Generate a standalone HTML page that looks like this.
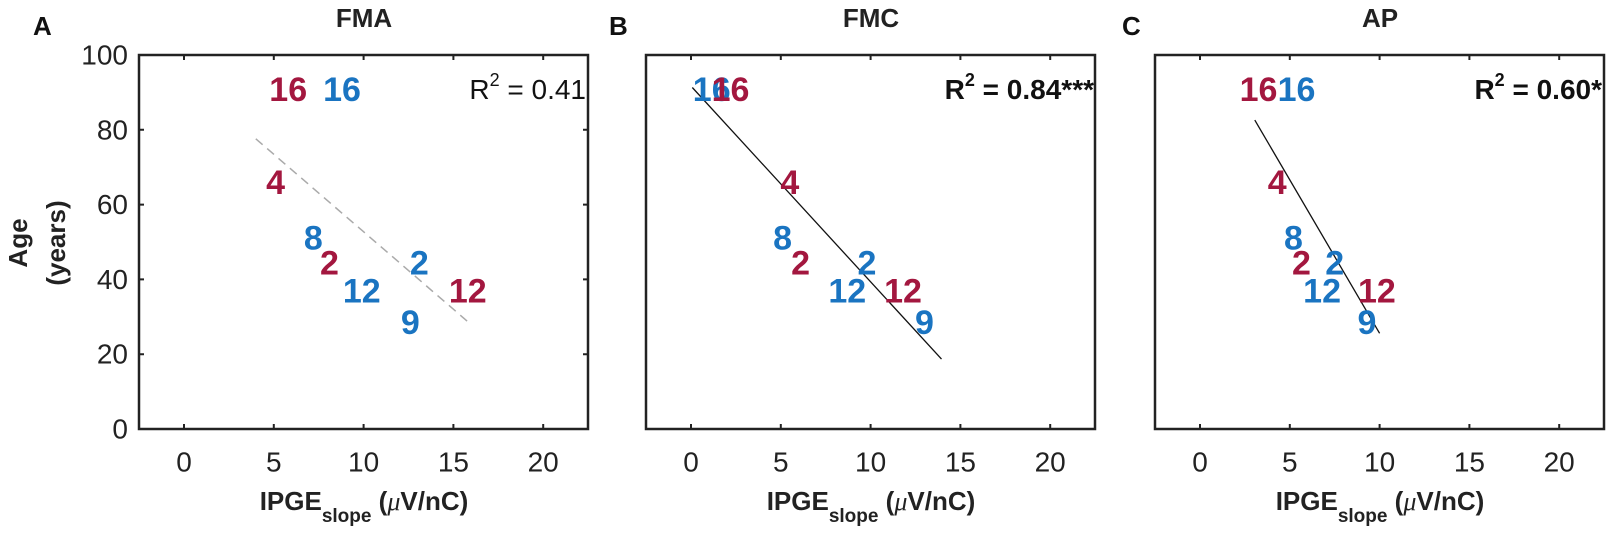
<!DOCTYPE html>
<html><head><meta charset="utf-8"><style>
html,body{margin:0;padding:0;background:#fff}
svg{display:block}
text{font-family:"Liberation Sans",Arial,sans-serif}
.t{font-size:28px;fill:#222}
.b{font-weight:bold}
.r{fill:#a3173f;font-weight:bold;font-size:34px}
.u{fill:#1a74c1;font-weight:bold;font-size:34px}
</style></head><body>
<svg width="1610" height="536" viewBox="0 0 1610 536">
<g stroke="#222" stroke-width="2.5" fill="none">
<rect x="139" y="55" width="449" height="374"/>
<rect x="646" y="55" width="449" height="374"/>
<rect x="1155" y="55" width="449" height="374"/>
</g>
<g stroke="#222" stroke-width="2">
<path d="M184 429v-5M273.8 429v-5M363.6 429v-5M453.4 429v-5M543.2 429v-5M184 55v5M273.8 55v5M363.6 55v5M453.4 55v5M543.2 55v5"/>
<path d="M691 429v-5M780.8 429v-5M870.6 429v-5M960.4 429v-5M1050.2 429v-5M691 55v5M780.8 55v5M870.6 55v5M960.4 55v5M1050.2 55v5"/>
<path d="M1200 429v-5M1289.8 429v-5M1379.6 429v-5M1469.4 429v-5M1559.2 429v-5M1200 55v5M1289.8 55v5M1379.6 55v5M1469.4 55v5M1559.2 55v5"/>
<path d="M139 129.8h5M139 204.6h5M139 279.4h5M139 354.2h5M588 129.8h-5M588 204.6h-5M588 279.4h-5M588 354.2h-5"/>
</g>
<g class="t" text-anchor="end" dominant-baseline="central">
<text x="128" y="55">100</text><text x="128" y="129.8">80</text><text x="128" y="204.6">60</text><text x="128" y="279.4">40</text><text x="128" y="354.2">20</text><text x="128" y="429">0</text>
</g>
<g class="t" text-anchor="middle" dominant-baseline="central">
<text x="184" y="462">0</text><text x="273.8" y="462">5</text><text x="363.6" y="462">10</text><text x="453.4" y="462">15</text><text x="543.2" y="462">20</text>
<text x="691" y="462">0</text><text x="780.8" y="462">5</text><text x="870.6" y="462">10</text><text x="960.4" y="462">15</text><text x="1050.2" y="462">20</text>
<text x="1200" y="462">0</text><text x="1289.8" y="462">5</text><text x="1379.6" y="462">10</text><text x="1469.4" y="462">15</text><text x="1559.2" y="462">20</text>
</g>
<g class="b" font-size="26" fill="#222" text-anchor="middle">
<text x="364" y="510">IPGE<tspan font-size="19" dy="12">slope</tspan><tspan dy="-12"> (</tspan><tspan font-family="Liberation Serif" font-style="italic" font-weight="normal">μ</tspan>V/nC)</text>
<text x="871" y="510">IPGE<tspan font-size="19" dy="12">slope</tspan><tspan dy="-12"> (</tspan><tspan font-family="Liberation Serif" font-style="italic" font-weight="normal">μ</tspan>V/nC)</text>
<text x="1380" y="510">IPGE<tspan font-size="19" dy="12">slope</tspan><tspan dy="-12"> (</tspan><tspan font-family="Liberation Serif" font-style="italic" font-weight="normal">μ</tspan>V/nC)</text>
<text x="364" y="27" font-size="26">FMA</text>
<text x="871" y="27" font-size="26">FMC</text>
<text x="1380" y="27" font-size="26">AP</text>
</g>
<g class="b" font-size="26" fill="#111">
<text x="33" y="35">A</text><text x="609" y="35">B</text><text x="1122" y="35">C</text>
</g>
<g class="b" font-size="26" fill="#222" text-anchor="middle" dominant-baseline="central">
<text transform="translate(18,243) rotate(-90)">Age</text>
<text transform="translate(56,243) rotate(-90)">(years)</text>
</g>
<line x1="255.8" y1="138.8" x2="469.6" y2="323.2" stroke="#aaa" stroke-width="1.5" stroke-dasharray="9,6"/>
<line x1="692.3" y1="87.5" x2="941.5" y2="359.1" stroke="#111" stroke-width="1.3"/>
<line x1="1254.8" y1="120.1" x2="1379.6" y2="333.3" stroke="#111" stroke-width="1.3"/>
<text x="586" y="99" text-anchor="end" font-size="28" fill="#111">R<tspan font-size="18" dy="-13">2</tspan><tspan dy="13"> = 0.41</tspan></text>
<text x="1094" y="99" text-anchor="end" font-size="28" font-weight="bold" fill="#111">R<tspan font-size="18" dy="-13">2</tspan><tspan dy="13"> = 0.84***</tspan></text>
<text x="1602" y="99" text-anchor="end" font-size="28" font-weight="bold" fill="#111">R<tspan font-size="18" dy="-13">2</tspan><tspan dy="13"> = 0.60*</tspan></text>
<g text-anchor="middle" dominant-baseline="central">
<text class="r" x="288.2" y="89.8">16</text><text class="u" x="342" y="89.8">16</text>
<text class="r" x="275.6" y="182.9">4</text><text class="u" x="313.3" y="238.3">8</text>
<text class="r" x="329.5" y="263.3">2</text><text class="u" x="361.8" y="291.4">12</text>
<text class="u" x="419.3" y="263.3">2</text><text class="r" x="467.8" y="291.4">12</text>
<text class="u" x="410.3" y="323.2">9</text>

<text class="u" x="711.7" y="89.8">16</text><text class="r" x="730.5" y="89.8">16</text>
<text class="r" x="789.8" y="182.9">4</text><text class="u" x="782.6" y="238.3">8</text>
<text class="r" x="800.6" y="263.3">2</text><text class="u" x="867" y="263.3">2</text>
<text class="u" x="847.3" y="291.4">12</text><text class="r" x="903" y="291.4">12</text>
<text class="u" x="924.5" y="323.2">9</text>

<text class="r" x="1258.5" y="89.8">16</text><text class="u" x="1296.5" y="89.8">16</text>
<text class="r" x="1277.2" y="182.9">4</text><text class="u" x="1293.4" y="238.3">8</text>
<text class="r" x="1301.5" y="263.3">2</text><text class="u" x="1334.7" y="263.3">2</text>
<text class="u" x="1322.1" y="291.4">12</text><text class="r" x="1376.9" y="291.4">12</text>
<text class="u" x="1367" y="323.2">9</text>
</g>
</svg>
</body></html>
